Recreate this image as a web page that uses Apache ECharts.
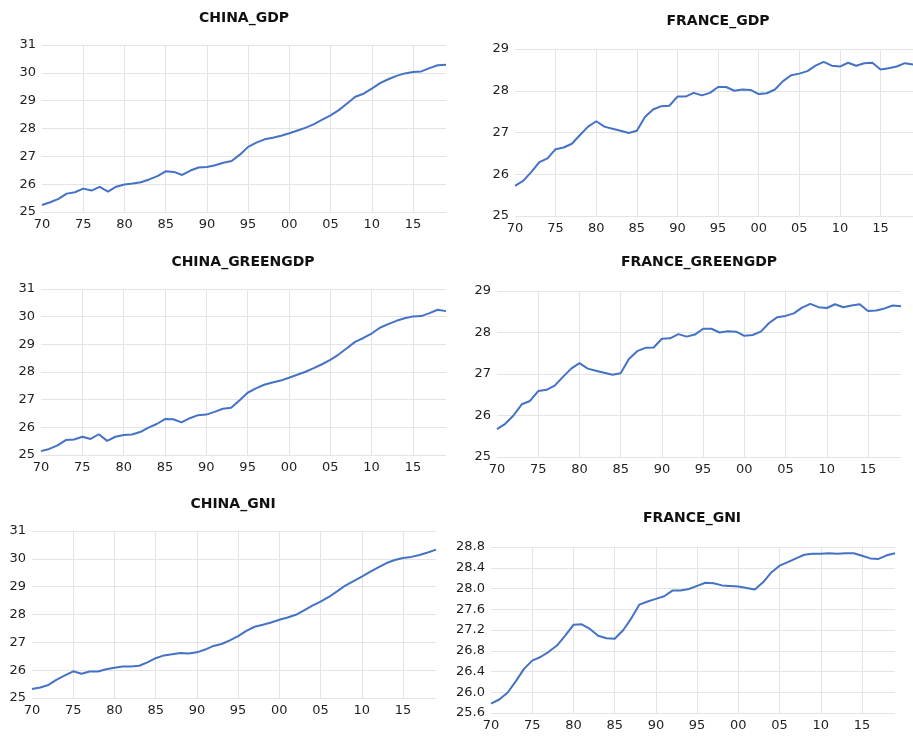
<!DOCTYPE html>
<html>
<head>
<meta charset="utf-8">
<script src="https://cdn.jsdelivr.net/npm/echarts@6/dist/echarts.min.js"></script>
<style>
  html, body { margin: 0; padding: 0; background: #ffffff; }
  #chart { width: 913px; height: 736px; }
</style>
</head>
<body>
<div id="chart"></div>
<script>
// Years covered by every series
const years = [];
for (let y = 1970; y <= 2019; y++) years.push(y);

// Log levels, 1970-2019
const chinaGdp = [25.25,25.35,25.47,25.66,25.71,25.84,25.77,25.90,25.73,25.91,
  25.99,26.02,26.07,26.17,26.29,26.46,26.44,26.33,26.49,26.60,
  26.62,26.68,26.77,26.83,27.06,27.34,27.49,27.61,27.67,27.74,
  27.83,27.93,28.03,28.16,28.32,28.47,28.66,28.90,29.14,29.25,
  29.43,29.63,29.77,29.89,29.98,30.03,30.05,30.17,30.27,30.29];

const franceGdp = [25.72,25.84,26.05,26.29,26.38,26.60,26.64,26.73,26.94,27.14,
  27.27,27.14,27.09,27.04,26.99,27.04,27.37,27.55,27.63,27.64,
  27.86,27.86,27.95,27.89,27.95,28.09,28.09,28.00,28.03,28.02,
  27.92,27.94,28.03,28.23,28.37,28.41,28.47,28.60,28.69,28.60,
  28.58,28.67,28.60,28.66,28.67,28.51,28.54,28.58,28.66,28.63];

const chinaGreenGdp = [25.14,25.22,25.35,25.54,25.56,25.66,25.58,25.75,25.51,25.66,
  25.72,25.74,25.83,25.99,26.12,26.30,26.29,26.18,26.33,26.44,
  26.46,26.56,26.67,26.71,26.97,27.25,27.41,27.54,27.62,27.69,
  27.79,27.90,28.01,28.14,28.28,28.44,28.63,28.86,29.09,29.23,
  29.39,29.60,29.73,29.85,29.94,30.01,30.02,30.13,30.25,30.20];

const franceGreenGdp = [25.67,25.80,26.00,26.27,26.35,26.59,26.62,26.72,26.93,27.13,
  27.26,27.13,27.08,27.03,26.98,27.02,27.36,27.55,27.63,27.64,
  27.85,27.86,27.96,27.90,27.95,28.09,28.09,28.00,28.03,28.02,
  27.92,27.94,28.02,28.23,28.37,28.40,28.46,28.60,28.69,28.61,
  28.59,28.68,28.61,28.65,28.68,28.52,28.53,28.58,28.65,28.63];

const chinaGni = [25.32,25.38,25.47,25.66,25.81,25.96,25.87,25.95,25.95,26.03,
  26.09,26.13,26.13,26.16,26.28,26.43,26.53,26.57,26.62,26.60,
  26.64,26.74,26.87,26.94,27.07,27.22,27.41,27.56,27.63,27.71,
  27.81,27.89,27.99,28.15,28.32,28.46,28.63,28.83,29.04,29.20,
  29.36,29.53,29.69,29.85,29.96,30.03,30.07,30.14,30.23,30.33];

const franceGni = [25.78,25.86,25.99,26.21,26.45,26.61,26.68,26.78,26.90,27.09,
  27.30,27.31,27.22,27.09,27.04,27.03,27.19,27.42,27.69,27.75,
  27.80,27.85,27.96,27.96,27.99,28.05,28.11,28.10,28.06,28.05,
  28.04,28.01,27.98,28.12,28.31,28.44,28.51,28.58,28.65,28.67,
  28.67,28.68,28.67,28.68,28.68,28.63,28.58,28.57,28.64,28.68];

// Panel titles and value-axis ranges
const titles = ['CHINA_GDP', 'FRANCE_GDP', 'CHINA_GREENGDP', 'FRANCE_GREENGDP', 'CHINA_GNI', 'FRANCE_GNI'];
const seriesValues = [chinaGdp, franceGdp, chinaGreenGdp, franceGreenGdp, chinaGni, franceGni];
const yMin = [25, 25, 25, 25, 25, 25.6];
const yMax = [31, 29, 31, 29, 31, 28.8];
const yStep = [1, 1, 1, 1, 1, 0.4];
const yDecimals = [0, 0, 0, 0, 0, 1];

// Plot rectangles [left, top, width, height] and title centres [x, y]
const layout = [
  { grid: [42, 45, 404, 167],  title: [244, 17] },
  { grid: [515, 49, 404, 167], title: [718, 20.5] },
  { grid: [41, 289, 405, 166], title: [243, 261] },
  { grid: [497, 291, 404, 166], title: [699, 261.5] },
  { grid: [32, 531, 404, 167], title: [233, 503] },
  { grid: [491, 547, 404, 166], title: [692, 517] }
];

const LINE = '#4472c4';
const GRIDC = '#e4e4e4';
const TEXT = '#1f1f1f';
const FONT = 'DejaVu Sans';

const option = {
  backgroundColor: '#ffffff',
  animation: false,
  title: [], grid: [], xAxis: [], yAxis: [], series: []
};

titles.forEach((name, i) => {
  const L = layout[i];
  option.title.push({
    text: name,
    left: L.title[0],
    top: L.title[1] - 6,
    padding: 0,
    textAlign: 'center',
    textStyle: { fontFamily: FONT, fontSize: 14, fontWeight: 'bold', color: '#111111' }
  });
  option.grid.push({ left: L.grid[0], top: L.grid[1], width: L.grid[2], height: L.grid[3], containLabel: false });
  option.xAxis.push({
    type: 'value', gridIndex: i, min: 1970, max: 2019, interval: 5,
    axisLine: { show: false }, axisTick: { show: false },
    axisLabel: {
      margin: 6, color: TEXT, fontFamily: FONT, fontSize: 13, showMaxLabel: false,
      formatter: v => String(v % 100).padStart(2, '0')
    },
    splitLine: { show: true, showMinLine: false, showMaxLine: false, lineStyle: { color: GRIDC, width: 1 } }
  });
  option.yAxis.push({
    type: 'value', gridIndex: i, min: yMin[i], max: yMax[i], interval: yStep[i],
    axisLine: { show: false }, axisTick: { show: false },
    axisLabel: {
      margin: 6, color: TEXT, fontFamily: FONT, fontSize: 13,
      formatter: v => v.toFixed(yDecimals[i])
    },
    splitLine: { show: true, lineStyle: { color: GRIDC, width: 1 } }
  });
  option.series.push({
    type: 'line', xAxisIndex: i, yAxisIndex: i,
    data: years.map((y, k) => [y, seriesValues[i][k]]),
    showSymbol: false, symbol: 'none',
    lineStyle: { color: LINE, width: 2 },
    clip: true
  });
});

const chart = echarts.init(document.getElementById('chart'), null, { renderer: 'canvas' });
chart.setOption(option);
</script>
</body>
</html>
